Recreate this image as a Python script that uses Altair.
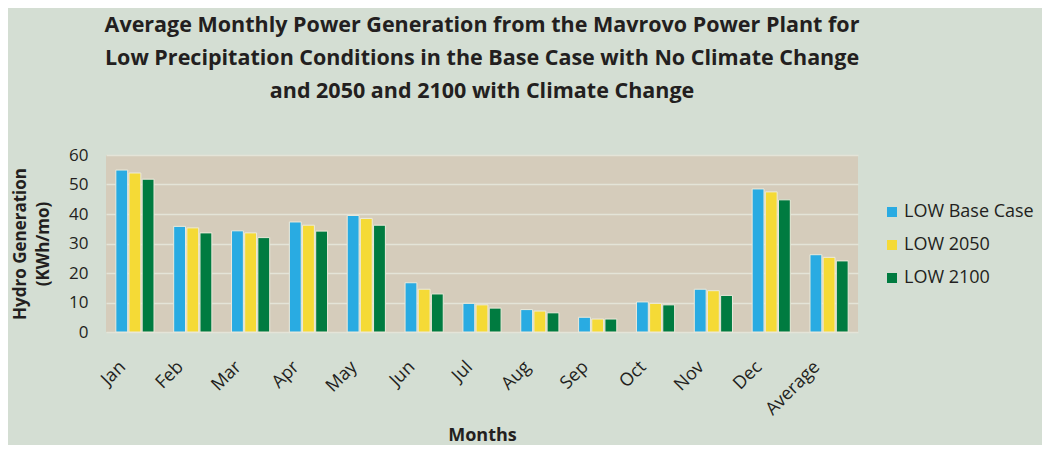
import altair as alt
import pandas as pd

months = ["Jan", "Feb", "Mar", "Apr", "May", "Jun", "Jul", "Aug", "Sep", "Oct", "Nov", "Dec", "Average"]
series = ["LOW Base Case", "LOW 2050", "LOW 2100"]
low_base = [54.9, 35.8, 34.3, 37.3, 39.5, 16.7, 9.7, 7.6, 5.0, 10.2, 14.5, 48.5, 26.2]
low_2050 = [53.9, 35.3, 33.6, 36.2, 38.5, 14.5, 9.2, 7.1, 4.4, 9.7, 14.0, 47.5, 25.3]
low_2100 = [51.8, 33.6, 32.0, 34.2, 36.2, 12.9, 8.1, 6.5, 4.4, 9.2, 12.4, 44.8, 24.1]
colors = ["#29ABE2", "#F5DA36", "#007B40"]

rows = []
for s, vals in zip(series, [low_base, low_2050, low_2100]):
    for m, v in zip(months, vals):
        rows.append({"Month": m, "Series": s, "Value": v})
df = pd.DataFrame(rows)

W, H = 752, 177
chart = alt.Chart(df).mark_bar(stroke="#ECEADB", strokeWidth=1).encode(
    x=alt.X("Month:N", sort=months,
            scale=alt.Scale(paddingInner=0.34, paddingOuter=0.17),
            axis=alt.Axis(title="Months", labelAngle=-45, labelAlign="right",
                          labelBaseline="middle", labelPadding=32, labelOffset=-12,
                          labelFontSize=18, labelColor="#231F20", labelFont="Open Sans",
                          ticks=False, domain=False,
                          titleFontSize=18, titleFont="Open Sans", titleFontWeight="bold",
                          titleColor="#231F20", titleY=108, titleBaseline="alphabetic")),
    xOffset=alt.XOffset("Series:N", sort=series, scale=alt.Scale(paddingInner=0.1)),
    y=alt.Y("Value:Q", scale=alt.Scale(domain=[0, 60], nice=False),
            axis=alt.Axis(title=["Hydro Generation", "(KWh/mo)"], values=[0, 10, 20, 30, 40, 50, 60],
                          labelFontSize=17, labelColor="#231F20", labelFont="Open Sans",
                          labelPadding=18, ticks=False, domain=False,
                          gridColor="#E4E4D8", gridWidth=1.5,
                          titleFontSize=17, titleFont="Open Sans", titleFontWeight="bold",
                          titleColor="#231F20", titleX=-77, titleLineHeight=23)),
    color=alt.Color("Series:N", sort=series,
                    scale=alt.Scale(domain=series, range=colors),
                    legend=alt.Legend(title=None, orient="none", legendX=777, legendY=48,
                                      symbolType="square", symbolSize=100, symbolStrokeWidth=0,
                                      labelFontSize=18, labelFont="Open Sans", labelColor="#231F20",
                                      labelOffset=3, rowPadding=15, padding=0)),
).properties(
    width=W, height=H,
    title=alt.TitleParams(
        text=["Average Monthly Power Generation from the Mavrovo Power Plant for",
              "Low Precipitation Conditions in the Base Case with No Climate Change",
              "and 2050 and 2100 with Climate Change"],
        anchor="middle", fontSize=21.5, font="Open Sans", fontWeight="bold",
        color="#231F20", lineHeight=33, offset=44),
    autosize=alt.AutoSizeParams(type="none"),
    padding={"left": 98, "top": 147, "right": 184, "bottom": 113},
    background="#D4DED3",
).configure_view(fill="#D5CCBB", stroke=None)

chart.save("out.html", embed_options={"renderer": "svg", "actions": False})
